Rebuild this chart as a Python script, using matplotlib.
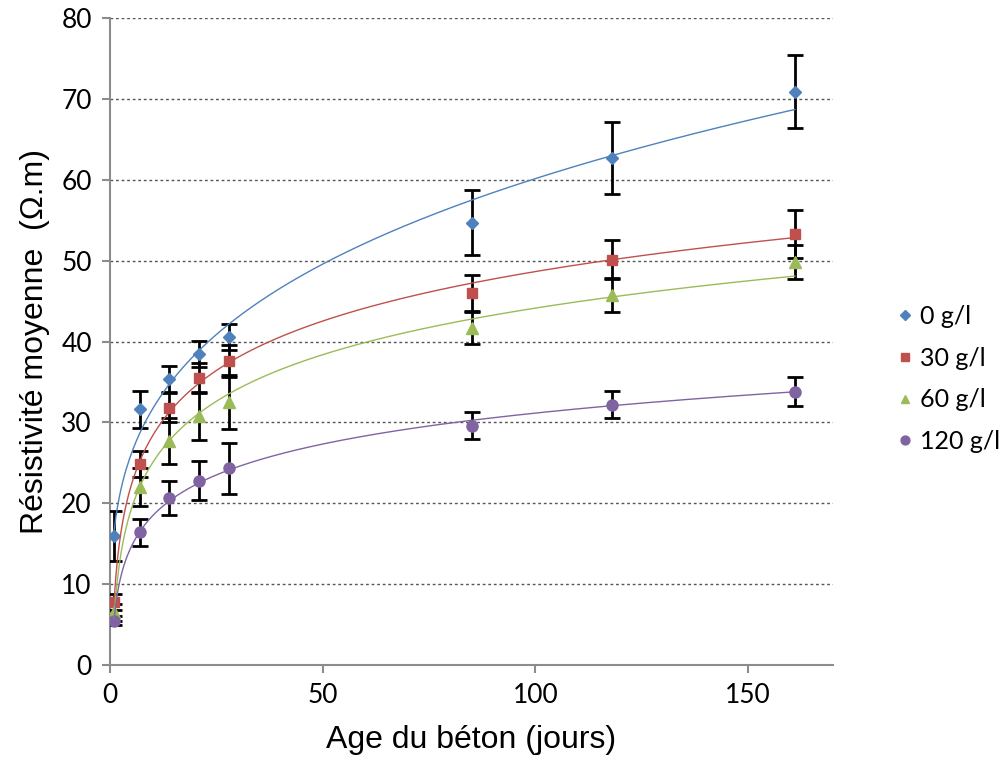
# coding: utf-8

import numpy as np
import matplotlib
matplotlib.use('Agg')
import matplotlib.pyplot as plt
from matplotlib.lines import Line2D

# ---- data
age = [1, 7, 14, 21, 28, 85, 118, 161]

labels = ['0 g/l', '30 g/l', '60 g/l', '120 g/l']

res_0 = [15.9, 31.6, 35.4, 38.5, 40.6, 54.7, 62.7, 70.9]
res_30 = [7.8, 24.8, 31.8, 35.5, 37.6, 46.0, 50.1, 53.3]
res_60 = [6.5, 22.0, 27.7, 30.8, 32.5, 41.7, 45.7, 49.8]
res_120 = [5.5, 16.4, 20.6, 22.8, 24.3, 29.6, 32.2, 33.8]

err_0 = [3.1, 2.3, 1.6, 1.6, 1.6, 4.0, 4.5, 4.5]
err_30 = [1.0, 1.6, 1.8, 1.9, 2.0, 2.2, 2.4, 3.0]
err_60 = [1.0, 2.4, 2.9, 3.0, 3.3, 2.0, 2.1, 2.1]
err_120 = [0.6, 1.7, 2.1, 2.4, 3.2, 1.7, 1.7, 1.8]

# excel trend line type per series
trend = ['power', 'log', 'log', 'log']

colors = ['#4F81BD', '#C0504D', '#9BBB59', '#8064A2']
markers = ['D', 's', '^', 'o']
msizes = [6, 7.5, 8, 8]


def main():
    fig = plt.figure(figsize=(9.99, 7.58), dpi=100)
    ax = fig.add_axes([0.110, 0.1227, 0.724, 0.8535])

    series = [res_0, res_30, res_60, res_120]
    errors = [err_0, err_30, err_60, err_120]
    x = np.array(age, dtype=float)
    xs = np.linspace(1, 161, 400)

    for vals, errs, tr, c, m, ms in zip(series, errors, trend, colors, markers, msizes):
        ax.errorbar(x, vals, yerr=errs, fmt='none', ecolor='black',
                    elinewidth=2, capsize=6, capthick=2, zorder=3)
        ax.plot(x, vals, linestyle='none', marker=m, markersize=ms,
                color=c, markeredgecolor=c, zorder=4)
        if tr == 'power':
            # y = k * x^p
            p, lk = np.polyfit(np.log(x), np.log(vals), 1)
            ys = np.exp(lk) * xs ** p
        else:
            # y = a * ln(x) + b
            a, b = np.polyfit(np.log(x), vals, 1)
            ys = a * np.log(xs) + b
        ax.plot(xs, ys, color=c, linewidth=1, zorder=5)

    ax.set_xlim(0, 170)
    ax.set_ylim(0, 80)
    ax.set_xticks([0, 50, 100, 150])
    ax.set_yticks(range(0, 81, 10))

    ax.yaxis.grid(True, linestyle=(0, (2, 2)), color='#555555', linewidth=1)
    ax.set_axisbelow(True)

    for s in ['top', 'right']:
        ax.spines[s].set_visible(False)
    for s in ['left', 'bottom']:
        ax.spines[s].set_color('#8C8C8C')
        ax.spines[s].set_linewidth(1.5)
    ax.tick_params(axis='both', direction='out', length=6, width=1.5,
                   color='#8C8C8C', labelsize=19, pad=7)
    for t in ax.get_xticklabels() + ax.get_yticklabels():
        t.set_family('Lato')

    ax.set_xlabel('Age du béton (jours)', family='Liberation Sans',
                  fontsize=23, labelpad=12)
    ax.set_ylabel('Résistivité moyenne  (Ω.m)', family='Liberation Sans',
                  fontsize=23, labelpad=8)

    handles = [Line2D([], [], linestyle='none', marker=m, markersize=ms * 0.8,
                      color=c) for c, m, ms in zip(colors, markers, msizes)]
    fig.legend(handles, labels, loc='center left',
               bbox_to_anchor=(0.898, 0.5), frameon=False,
               borderpad=0, borderaxespad=0,
               prop={'family': 'Lato', 'size': 18},
               handlelength=0.6, handletextpad=0.3, labelspacing=0.75)

    fig.savefig('out.png', dpi=100)


### MAIN ####
if __name__ == '__main__':
    main()
